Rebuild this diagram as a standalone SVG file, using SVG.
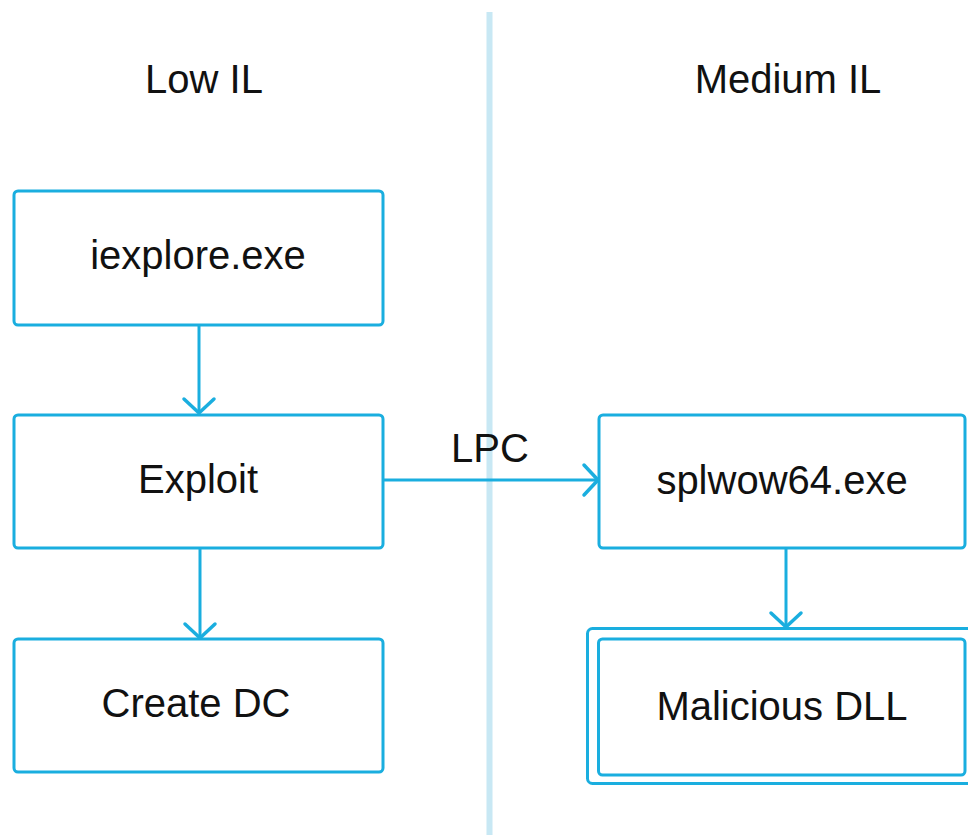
<svg xmlns="http://www.w3.org/2000/svg" width="968" height="835" viewBox="0 0 968 835">
  <style>
    .box { fill: #ffffff; stroke: #1aaedf; stroke-width: 3; }
    .lbl { font-family: "Liberation Sans", Arial, sans-serif; font-size: 40px; fill: #111111; text-anchor: middle; }
    .edge { fill: none; stroke: #1aaedf; stroke-width: 3; }
    .head { fill: none; stroke: #1aaedf; stroke-width: 3.5; stroke-linecap: round; stroke-linejoin: round; }
  </style>
  <rect width="968" height="835" fill="#ffffff"/>

  <!-- integrity level divider -->
  <rect id="divider" x="486.5" y="12" width="6" height="823" fill="#c8e8f4"/>

  <g id="headers">
    <text class="lbl" x="204" y="93">Low IL</text>
    <text class="lbl" x="788" y="93">Medium IL</text>
  </g>

  <g id="iexplore">
    <rect class="box" x="14" y="191" width="369" height="134" rx="4"/>
    <text class="lbl" x="198" y="269">iexplore.exe</text>
  </g>
  <g id="exploit">
    <rect class="box" x="14" y="415" width="369" height="133" rx="4"/>
    <text class="lbl" x="198" y="493">Exploit</text>
  </g>
  <g id="create-dc">
    <rect class="box" x="14" y="639" width="369" height="133" rx="4"/>
    <text class="lbl" x="196" y="717">Create DC</text>
  </g>
  <g id="splwow64">
    <rect class="box" x="599" y="415" width="366" height="133" rx="4"/>
    <text class="lbl" x="782" y="494">splwow64.exe</text>
  </g>
  <g id="malicious-dll">
    <rect class="box" x="587.5" y="628.5" width="400" height="155" rx="5"/>
    <rect class="box" x="598.5" y="639" width="366.5" height="136" rx="4"/>
    <text class="lbl" x="782" y="720">Malicious DLL</text>
  </g>

  <g id="connectors">
    <line class="edge" x1="199" y1="325" x2="199" y2="412"/>
    <polyline class="head" points="184,399 199,413 214,399"/>

    <line class="edge" x1="200" y1="548" x2="200" y2="637"/>
    <polyline class="head" points="185,624 200,638 215,624"/>

    <line class="edge" x1="383" y1="480" x2="597" y2="480"/>
    <polyline class="head" points="584,465 598,480 584,495"/>
    <text class="lbl" x="490" y="462">LPC</text>

    <line class="edge" x1="786" y1="548" x2="786" y2="626"/>
    <polyline class="head" points="771,613 786,627 801,613"/>
  </g>
</svg>
